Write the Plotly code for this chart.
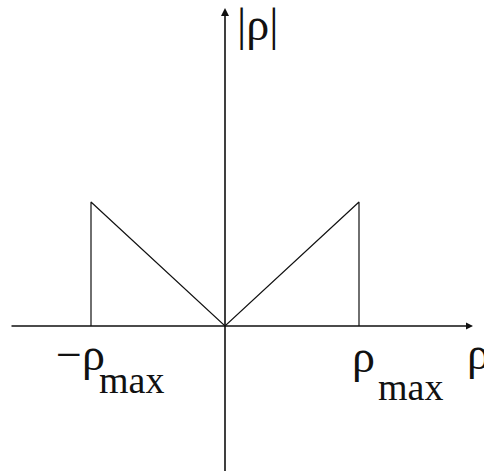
import plotly.graph_objects as go

# pixel scale of the original sketch: x=0 at 225px, 134px per unit; y=0 at 326px, 124px per unit
rho_x = [-1, -1, 0, 1, 1]
abs_rho = [0, 1, 0, 1, 0]

tick_pos = [-1, 1]
tick_labels = ["−ρ", "ρ"]
tick_sub = "max"

FONT = "Liberation Serif"
INK = "#111111"


def px_x(p):
    return (p - 225) / 134


def px_y(p):
    return (326 - p) / 124


fig = go.Figure()

fig.add_trace(go.Scatter(
    x=rho_x, y=abs_rho, mode="lines",
    line=dict(color=INK, width=1.2),
    hoverinfo="skip", showlegend=False,
))

# axes with arrows
fig.add_annotation(x=px_x(473), y=0, ax=px_x(10), ay=0,
                   xref="x", yref="y", axref="x", ayref="y",
                   showarrow=True, arrowhead=2, arrowsize=1, arrowwidth=1.4,
                   arrowcolor=INK, text="")
fig.add_annotation(x=0, y=px_y(8), ax=0, ay=px_y(475),
                   xref="x", yref="y", axref="x", ayref="y",
                   showarrow=True, arrowhead=2, arrowsize=1, arrowwidth=1.6,
                   arrowcolor=INK, text="")

# tick labels: main glyph + "max" subscript, offsets in px from the tick
main_dx = [-37, -9]
main_top = [327, 329]
sub_dx = [6, 17]
sub_top = [357, 364]
for pos, lab, mdx, mtop, sdx, stop in zip(tick_pos, tick_labels, main_dx, main_top, sub_dx, sub_top):
    fig.add_annotation(x=pos, y=px_y(mtop), xref="x", yref="y",
                       text=lab, showarrow=False, xanchor="left", yanchor="top",
                       xshift=mdx, font=dict(family=FONT, size=46, color=INK))
    fig.add_annotation(x=pos, y=px_y(stop), xref="x", yref="y",
                       text=tick_sub, showarrow=False, xanchor="left", yanchor="top",
                       xshift=sdx, font=dict(family=FONT, size=38, color=INK))

# axis titles
fig.add_annotation(x=px_x(465), y=px_y(326), xref="x", yref="y",
                   text="ρ", showarrow=False, xanchor="left", yanchor="top",
                   font=dict(family=FONT, size=46, color=INK))
fig.add_annotation(x=px_x(235), y=1, xref="x", yref="paper",
                   text="|ρ|", showarrow=False, xanchor="left", yanchor="top",
                   yshift=3, font=dict(family=FONT, size=46, color=INK))

fig.update_layout(
    width=484, height=471,
    margin=dict(l=0, r=0, t=0, b=0),
    paper_bgcolor="white", plot_bgcolor="white",
    xaxis=dict(range=[px_x(0), px_x(484)], visible=False, fixedrange=True),
    yaxis=dict(range=[px_y(471), px_y(0)], visible=False, fixedrange=True),
    showlegend=False,
)

fig.write_html("out.html", config={"displayModeBar": False},
               post_script="document.body.style.margin='0px';")
